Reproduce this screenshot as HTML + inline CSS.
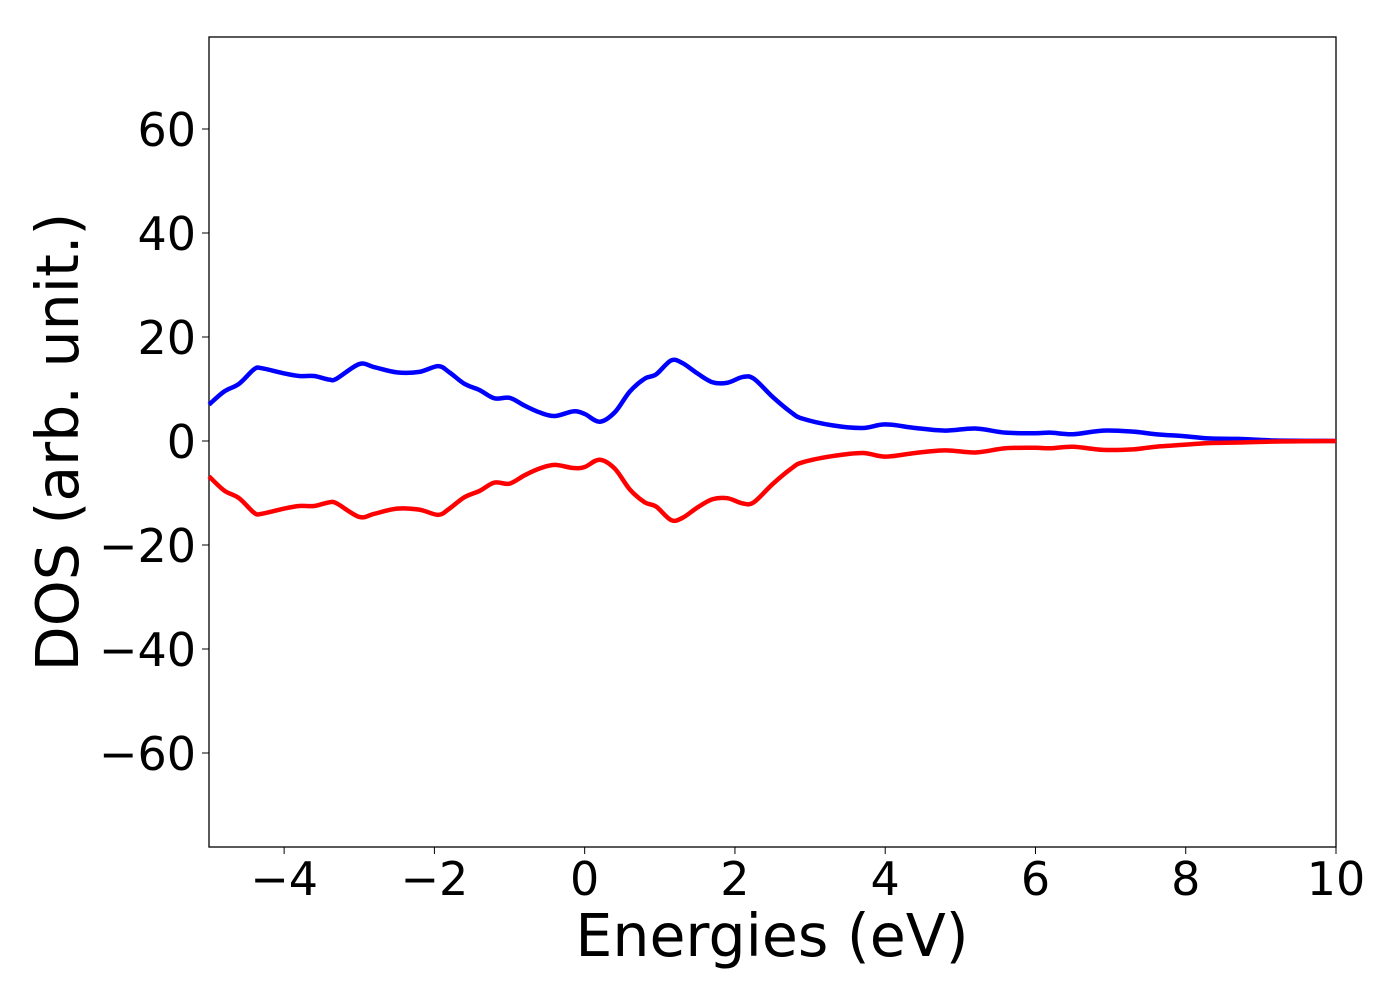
<!DOCTYPE html>
<html><head><meta charset="utf-8"><style>
body{margin:0;background:#fff;}
svg{display:block;font-family:"DejaVu Sans","Liberation Sans",sans-serif;}
</style></head><body>
<svg id="chart" width="1400" height="1000">
<rect x="209" y="37" width="1127" height="810" fill="none" stroke="#000" stroke-width="1.3"/>
<g id="ticks"></g>
<g id="series"></g>
<text x="772" y="956" font-size="58.5" text-anchor="middle">Energies (eV)</text>
<text transform="translate(78,442) rotate(-90)" font-size="58.5" text-anchor="middle">DOS (arb. unit.)</text>
</svg>
<script>
const energies=[-5,-4.8,-4.6,-4.4,-4.3,-4.0,-3.8,-3.6,-3.4,-3.3,-3.0,-2.8,-2.5,-2.2,-1.95,-1.8,-1.6,-1.4,-1.2,-1.0,-0.8,-0.6,-0.4,-0.15,0,0.2,0.4,0.6,0.8,0.95,1.15,1.3,1.5,1.7,1.9,2.1,2.25,2.5,2.75,2.9,3.3,3.7,4.0,4.4,4.8,5.2,5.6,6.0,6.2,6.5,6.9,7.3,7.6,8.0,8.3,8.7,9.2,10];
const spinUp=[7,9.5,11,13.8,14,13,12.5,12.5,11.8,12,14.8,14.2,13.2,13.3,14.4,13.2,11,9.8,8.2,8.3,6.8,5.5,4.8,5.7,5.2,3.7,5.5,9.5,12,12.8,15.5,15,13,11.3,11.2,12.3,12,8.5,5.5,4.3,3,2.5,3.2,2.5,2,2.4,1.6,1.5,1.6,1.3,2,1.8,1.3,0.9,0.5,0.4,0.1,0];
const spinDown=[-6.8,-9.5,-11,-13.8,-14,-13,-12.5,-12.5,-11.8,-12,-14.6,-14,-13,-13.2,-14.2,-13,-10.8,-9.6,-8,-8.2,-6.6,-5.3,-4.6,-5.2,-5,-3.6,-5.3,-9.3,-11.8,-12.6,-15.2,-14.8,-12.8,-11.2,-11,-12,-11.8,-8.3,-5.3,-4.1,-2.9,-2.3,-3,-2.3,-1.8,-2.2,-1.4,-1.3,-1.4,-1.1,-1.7,-1.6,-1.1,-0.7,-0.4,-0.3,-0.1,0];
const xTicks=[-4,-2,0,2,4,6,8,10];
const yTicks=[-60,-40,-20,0,20,40,60];
const xTickLabels=["\u22124","\u22122","0","2","4","6","8","10"];
const yTickLabels=["\u221260","\u221240","\u221220","0","20","40","60"];
const X=v=>209+(v+5)*(1127/15);
const Y=v=>441-v*5.2;
const ns="http://www.w3.org/2000/svg";
const tg=document.getElementById('ticks');
xTicks.forEach((t,i)=>{
 const l=document.createElementNS(ns,'line');
 l.setAttribute('x1',X(t));l.setAttribute('x2',X(t));l.setAttribute('y1',847);l.setAttribute('y2',854);l.setAttribute('stroke','#000');
 
 
 tg.appendChild(l);
 const tx=document.createElementNS(ns,'text');
 tx.setAttribute('x',X(t));tx.setAttribute('y',895);tx.setAttribute('font-size','46');tx.setAttribute('text-anchor','middle');
 tx.textContent=xTickLabels[i];
 
 
 tg.appendChild(tx);
});
yTicks.forEach((t,i)=>{
 const l=document.createElementNS(ns,'line');
 l.setAttribute('x1',202);l.setAttribute('x2',209);l.setAttribute('y1',Y(t));l.setAttribute('y2',Y(t));l.setAttribute('stroke','#000');
 
 
 tg.appendChild(l);
 const tx=document.createElementNS(ns,'text');
 tx.setAttribute('x',196);tx.setAttribute('y',Y(t)+17);tx.setAttribute('font-size','46');tx.setAttribute('text-anchor','end');
 tx.textContent=yTickLabels[i];
 
 
 tg.appendChild(tx);
});
function pathFor(vals){
 const p=energies.map((e,i)=>[X(e),Y(vals[i])]);
 let d='M'+p[0][0]+','+p[0][1];
 for(let i=0;i<p.length-1;i++){
  const p0=p[Math.max(0,i-1)],p1=p[i],p2=p[i+1],p3=p[Math.min(p.length-1,i+2)];
  const c1=[p1[0]+(p2[0]-p0[0])/6,p1[1]+(p2[1]-p0[1])/6];
  const c2=[p2[0]-(p3[0]-p1[0])/6,p2[1]-(p3[1]-p1[1])/6];
  d+=' C'+c1+' '+c2+' '+p2;
 }
 return d;
}
const sg=document.getElementById('series');
const up=document.createElementNS(ns,'path');
up.setAttribute('d',pathFor(spinUp));up.setAttribute('fill','none');up.setAttribute('stroke','#0000ff');up.setAttribute('stroke-width','4.5');


sg.appendChild(up);
const dn=document.createElementNS(ns,'path');
dn.setAttribute('d',pathFor(spinDown));dn.setAttribute('fill','none');dn.setAttribute('stroke','#ff0000');dn.setAttribute('stroke-width','4.5');


sg.appendChild(dn);
</script>
</body></html>
